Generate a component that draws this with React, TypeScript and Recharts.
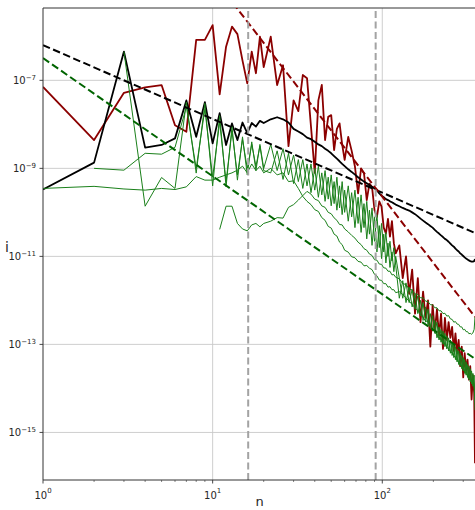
import { CartesianGrid, Line, LineChart, ReferenceLine, XAxis, YAxis } from 'recharts';

// sample positions shared by every measured series
const ns = [
  1, 2, 3, 4, 5, 6, 7, 8, 9, 10, 11, 12, 13, 14, 15, 16, 17, 18, 19, 20,
  22, 24, 26, 28, 30, 32, 34, 36, 38, 40, 42, 44, 46, 48, 50, 52, 54, 56, 58, 60,
  63, 66, 69, 72, 75, 78, 81, 84, 87, 90, 93, 96, 99, 102, 105, 108, 111, 114, 117, 120,
  126, 132, 138, 144, 150, 156, 162, 168, 174, 180, 186, 192, 198, 204, 210, 216, 222, 228, 234, 240,
  246, 252, 258, 264, 270, 276, 282, 288, 294, 300, 306, 312, 318, 324, 330, 336, 342, 348, 352,
];

const red = [
  7.1e-8, 4.4e-9, 5.2e-8, 6.9e-8, 7.8e-8, 9.5e-9, 6.8e-9, 8.3e-7, 8.3e-7, 1.8e-6, 4.8e-8, 5.8e-7, 1.66e-6, 1.12e-6, 2.8e-7, 8.5e-8, 4.5e-7, 1.45e-7, 9.8e-7, 2.0e-7,
  9.8e-7, 7.8e-8, 2.2e-7, 3.2e-9, 3.5e-8, 2.0e-8, 1.32e-7, 1.12e-7, 8.9e-9, 7.9e-10, 3.5e-8, 7.9e-8, 4.4e-9, 1.48e-8, 1.62e-8, 2.6e-9, 7.9e-9, 1.05e-8, 3.5e-9, 1.55e-9,
  5.2e-9, 2.5e-9, 1.1e-9, 2.7e-10, 1.0e-9, 7.8e-10, 1.9e-10, 4.5e-10, 3.8e-10, 1.12e-10, 7.9e-11, 1.78e-10, 1.35e-10, 4.5e-11, 3.3e-11, 7.1e-11, 2.8e-11, 6.3e-11, 2.0e-11, 1.17e-11,
  1.78e-11, 3.2e-12, 1.0e-11, 1.41e-12, 5.0e-12, 5.0e-13, 3.2e-12, 3.2e-13, 1.58e-12, 4.0e-13, 1.0e-12, 8.9e-14, 7.9e-13, 2.0e-13, 6.3e-13, 1.58e-13, 5.0e-13, 7.9e-14, 4.0e-13, 1.26e-13,
  3.2e-13, 1.41e-13, 2.5e-13, 7.1e-14, 1.78e-13, 6.3e-14, 1.26e-13, 3.2e-14, 8.9e-14, 1.78e-14, 6.3e-14, 2.5e-14, 4.5e-14, 1.58e-14, 3.2e-14, 5.6e-15, 2.0e-14, 7.9e-15, 2.0e-16,
];

const black = [
  3.3e-10, 1.35e-9, 4.5e-7, 2.95e-9, 3.4e-9, 4.8e-9, 3.5e-8, 5.2e-9, 3.2e-8, 3.7e-9, 1.8e-8, 3.4e-9, 1.05e-8, 4.4e-9, 1.1e-8, 6.3e-9, 1.07e-8, 8.9e-9, 1.2e-8, 1.07e-8,
  1.3e-8, 1.45e-8, 1.3e-8, 1.1e-8, 7.9e-9, 6.9e-9, 6.0e-9, 5.0e-9, 4.6e-9, 4.0e-9, 3.5e-9, 3.2e-9, 2.8e-9, 2.5e-9, 2.2e-9, 1.9e-9, 1.66e-9, 1.45e-9, 1.26e-9, 1.12e-9,
  9.5e-10, 8.3e-10, 7.2e-10, 6.3e-10, 5.6e-10, 5.0e-10, 4.6e-10, 4.2e-10, 3.8e-10, 3.5e-10, 3.2e-10, 2.7e-10, 2.4e-10, 2.2e-10, 2.0e-10, 1.9e-10, 1.78e-10, 1.7e-10, 1.6e-10, 1.5e-10,
  1.38e-10, 1.26e-10, 1.17e-10, 1.1e-10, 1.0e-10, 9.1e-11, 8.1e-11, 7.2e-11, 6.5e-11, 5.9e-11, 5.4e-11, 4.9e-11, 4.5e-11, 4.0e-11, 3.6e-11, 3.3e-11, 3.0e-11, 2.75e-11, 2.5e-11, 2.35e-11,
  2.15e-11, 1.95e-11, 1.78e-11, 1.66e-11, 1.5e-11, 1.38e-11, 1.29e-11, 1.17e-11, 1.1e-11, 1.02e-11, 9.5e-12, 8.9e-12, 8.5e-12, 8.1e-12, 7.8e-12, 7.6e-12, 7.6e-12, 7.8e-12, 8.7e-12,
];

const greenA = [
  3.5e-10, 3.9e-10, 3.4e-10, 3.2e-10, 3.5e-10, 3.3e-10, 3.8e-10, 6.5e-10, 5.4e-10, 5.4e-10, 6.3e-10, 7.1e-10, 7.9e-10, 9.1e-10, 1.12e-9, 7.9e-10, 1.26e-9, 8.9e-10, 1.12e-9, 7.9e-10,
  1.0e-9, 7.1e-10, 7.9e-10, 5.0e-10, 5.2e-10, 3.5e-10, 2.3e-10, 1.78e-10, 1.5e-10, 1.15e-10, 1.05e-10, 7.6e-11, 6.6e-11, 4.8e-11, 4.4e-11, 3.2e-11, 2.9e-11, 2.1e-11, 1.85e-11, 1.38e-11,
  1.25e-11, 9.8e-12, 9.3e-12, 7.7e-12, 7.4e-12, 6.1e-12, 6.2e-12, 5.4e-12, 5.0e-12, 3.9e-12, 3.6e-12, 2.9e-12, 2.85e-12, 2.4e-12, 2.4e-12, 2.0e-12, 2.05e-12, 1.75e-12, 1.75e-12, 1.5e-12,
  1.58e-12, 1.35e-12, 1.15e-12, 9.5e-13, 8.1e-13, 6.8e-13, 5.8e-13, 4.8e-13, 4.1e-13, 3.4e-13, 3.3e-13, 2.4e-13, 2.3e-13, 1.9e-13, 1.62e-13, 1.36e-13, 1.3e-13, 1.08e-13, 1.03e-13, 8.6e-14,
  8.1e-14, 6.8e-14, 6.5e-14, 5.4e-14, 5.2e-14, 4.3e-14, 4.1e-14, 3.4e-14, 3.3e-14, 2.7e-14, 2.6e-14, 2.1e-14, 2.05e-14, 1.7e-14, 1.62e-14, 1.36e-14, 1.3e-14, 1.08e-14, 3.2e-15,
];

const greenB = [
  null, 1.0e-9, 9.1e-10, 2.2e-9, 2.1e-9, 3.0e-9, 2.5e-8, 1.0e-9, 2.2e-8, 6.3e-10, 1.12e-8, 5.0e-10, 7.1e-9, 7.1e-10, 4.5e-9, 1.0e-9, 3.5e-9, 1.12e-9, 3.2e-9, 8.9e-10,
  7.9e-10, 2.5e-9, 5.6e-10, 2.2e-9, 4.5e-10, 1.58e-9, 3.5e-10, 1.26e-9, 2.8e-10, 1.0e-9, 2.2e-10, 7.9e-10, 1.78e-10, 6.3e-10, 1.41e-10, 5.0e-10, 1.12e-10, 4.0e-10, 8.9e-11, 3.2e-10,
  6.3e-11, 2.8e-10, 4.5e-11, 2.2e-10, 3.5e-11, 1.58e-10, 2.5e-11, 1.12e-10, 1.78e-11, 7.9e-11, 1.26e-11, 5.0e-11, 8.9e-12, 3.2e-11, 7.1e-12, 2.0e-11, 5.6e-12, 1.26e-11, 4.5e-12, 1.0e-11,
  3.2e-12, 1.12e-12, 2.5e-12, 8.9e-13, 1.78e-12, 6.3e-13, 1.26e-12, 4.5e-13, 8.9e-13, 3.2e-13, 6.3e-13, 2.5e-13, 4.5e-13, 1.78e-13, 3.2e-13, 1.26e-13, 2.2e-13, 1.0e-13, 1.78e-13, 7.9e-14,
  1.41e-13, 6.3e-14, 1.12e-13, 5.0e-14, 8.9e-14, 4.0e-14, 7.1e-14, 3.2e-14, 5.6e-14, 2.5e-14, 4.5e-14, 2.0e-14, 3.5e-14, 1.58e-14, 2.8e-14, 1.26e-14, 2.2e-14, 1.0e-14, 7.9e-15,
];

const greenC = [
  null, null, 4.5e-7, 1.38e-10, 6.2e-10, 3.5e-10, 3.2e-8, 7.8e-10, 3.0e-8, 4.0e-10, 1.58e-8, 3.8e-10, 8.9e-9, 5.4e-10, 5.2e-9, 7.1e-10, 4.0e-9, 8.9e-10, 3.5e-9, 1.0e-9,
  3.5e-9, 8.9e-10, 2.8e-9, 7.1e-10, 2.0e-9, 5.0e-10, 1.58e-9, 4.0e-10, 1.26e-9, 3.2e-10, 1.12e-9, 2.5e-10, 8.9e-10, 2.0e-10, 7.1e-10, 1.58e-10, 6.3e-10, 1.26e-10, 5.0e-10, 1.0e-10,
  4.0e-10, 7.9e-11, 3.2e-10, 5.6e-11, 2.5e-10, 4.5e-11, 1.78e-10, 3.2e-11, 1.26e-10, 2.2e-11, 8.9e-11, 1.58e-11, 5.6e-11, 1.26e-11, 3.5e-11, 1.0e-11, 2.2e-11, 7.9e-12, 1.58e-11, 6.3e-12,
  1.12e-12, 2.8e-12, 8.9e-13, 2.0e-12, 7.1e-13, 1.41e-12, 5.0e-13, 1.0e-12, 3.5e-13, 7.1e-13, 2.8e-13, 5.0e-13, 2.0e-13, 3.5e-13, 1.41e-13, 2.5e-13, 1.12e-13, 2.0e-13, 8.9e-14, 1.58e-13,
  7.1e-14, 1.26e-13, 5.6e-14, 1.0e-13, 4.5e-14, 7.9e-14, 3.5e-14, 6.3e-14, 2.8e-14, 5.0e-14, 2.2e-14, 4.0e-14, 1.78e-14, 3.2e-14, 1.41e-14, 2.5e-14, 1.12e-14, 2.0e-14, 5.0e-15,
];

const greenD = [
  null, null, null, null, null, null, null, null, null, null, 4.1e-11, 1.38e-10, 1.38e-10, 5.6e-11, 4.2e-11, 3.8e-11, 5.2e-11, 5.6e-11, 4.7e-11, 5.6e-11,
  6.3e-11, 7.6e-11, 7.4e-11, 1.3e-10, 1.5e-10, 1.9e-10, 2.4e-10, 3.0e-10, 2.6e-10, 2.0e-10, 1.85e-10, 1.4e-10, 1.3e-10, 1.0e-10, 9.3e-11, 7.5e-11, 6.6e-11, 5.3e-11, 5.2e-11, 4.2e-11,
  3.6e-11, 3.0e-11, 2.6e-11, 2.1e-11, 1.85e-11, 1.5e-11, 1.38e-11, 1.13e-11, 1.05e-11, 8.4e-12, 8.2e-12, 6.7e-12, 6.6e-12, 5.5e-12, 5.4e-12, 4.6e-12, 4.6e-12, 3.8e-12, 3.85e-12, 3.35e-12,
  3.1e-12, 2.4e-12, 2.3e-12, 1.8e-12, 1.72e-12, 1.4e-12, 1.37e-12, 1.15e-12, 1.14e-12, 9.6e-13, 9.4e-13, 8.0e-13, 7.9e-13, 6.8e-13, 6.8e-13, 5.8e-13, 5.8e-13, 5.0e-13, 5.1e-13, 4.4e-13,
  4.5e-13, 3.8e-13, 3.7e-13, 3.2e-13, 3.3e-13, 2.9e-13, 2.85e-13, 2.5e-13, 2.5e-13, 2.15e-13, 2.2e-13, 1.95e-13, 1.95e-13, 1.75e-13, 1.78e-13, 1.7e-13, 1.82e-13, 2.2e-13, 4.3e-13,
];

// power-law fits, endpoints only
const blackFitN = [1, 352];
const blackFit = [6.3e-7, 3.4e-11];
const greenFitN = [1, 352];
const greenFit = [3.2e-7, 4.7e-14];
const redFitN = [12, 352];
const redFit = [9.1e-6, 4.2e-13];

const cutoffs = [16.2, 91.4];

const xTicks = [1, 2, 3, 4, 5, 6, 7, 8, 9, 10, 20, 30, 40, 50, 60, 70, 80, 90, 100, 200, 300];
const xMajor = [1, 10, 100];
const yTicks = [1e-15, 1e-13, 1e-11, 1e-9, 1e-7];

const X_DOMAIN = [1, 352];
const Y_DOMAIN = [8.3e-17, 4.4e-6];

const rows = ns.map((n, i) => ({
  n,
  red: red[i],
  black: black[i],
  ga: greenA[i],
  gb: greenB[i],
  gc: greenC[i],
  gd: greenD[i],
}));

const fitRows = (xs: number[], vs: number[]) => xs.map((n, i) => ({ n, v: vs[i] }));

const FONT = '"DejaVu Sans", sans-serif';
const INK = '#262626';

function XTick(props: any) {
  const { x, y, payload } = props;
  const v = payload.value;
  const major = xMajor.includes(v);
  return (
    <g>
      <line x1={x} x2={x} y1={y} y2={y + (major ? 3.5 : 2)} stroke="#333" strokeWidth={major ? 0.9 : 0.6} />
      {major && (
        <text x={x} y={y + 18.5} textAnchor="middle" fontFamily={FONT} fontSize={10} fill={INK}>
          10<tspan dy={-5.5} fontSize={7}>{Math.round(Math.log10(v))}</tspan>
        </text>
      )}
    </g>
  );
}

function YTick(props: any) {
  const { x, y, payload } = props;
  const exp = Math.round(Math.log10(payload.value));
  return (
    <g>
      <line x1={x} x2={x - 3.5} y1={y} y2={y} stroke="#333" strokeWidth={0.9} />
      <text x={x - 7} y={y + 3.8} textAnchor="end" fontFamily={FONT} fontSize={10} fill={INK}>
        10<tspan dy={-4.5} fontSize={7}>{'\u2212' + Math.abs(exp)}</tspan>
      </text>
    </g>
  );
}

const lineProps = {
  type: 'linear' as const,
  dot: false,
  activeDot: false,
  isAnimationActive: false,
  strokeLinejoin: 'round' as const,
};

export default function App() {
  return (
    <div style={{ position: 'absolute', left: 0, top: 0, width: 475, height: 510, overflow: 'hidden', background: '#fff' }}>
      <LineChart width={475} height={510} data={rows} margin={{ top: 8, right: 0, bottom: 0, left: 0 }}>
        <CartesianGrid stroke="#c8c8c8" strokeWidth={0.9} horizontalValues={yTicks} verticalValues={[10, 100]} />
        <XAxis
          dataKey="n"
          type="number"
          scale="log"
          domain={X_DOMAIN}
          allowDataOverflow
          ticks={xTicks}
          interval={0}
          height={30}
          tickSize={0}
          tickMargin={0}
          tickLine={false}
          tick={(p: any) => <XTick {...p} />}
          axisLine={{ stroke: '#333', strokeWidth: 1 }}
        />
        <YAxis
          type="number"
          scale="log"
          domain={Y_DOMAIN}
          allowDataOverflow
          ticks={yTicks}
          interval={0}
          width={43}
          tickSize={0}
          tickMargin={0}
          tickLine={false}
          tick={(p: any) => <YTick {...p} />}
          axisLine={{ stroke: '#333', strokeWidth: 1 }}
        />
        <ReferenceLine y={Y_DOMAIN[1]} stroke="#333" strokeWidth={1} />

        <Line {...lineProps} dataKey="red" stroke="#8b0000" strokeWidth={1.8} />
        <Line {...lineProps} dataKey="black" stroke="#000" strokeWidth={1.8} />
        <Line {...lineProps} dataKey="ga" stroke="#1a801a" strokeWidth={1} />
        <Line {...lineProps} dataKey="gb" stroke="#1a801a" strokeWidth={1} />
        <Line {...lineProps} dataKey="gc" stroke="#1a801a" strokeWidth={1} />
        <Line {...lineProps} dataKey="gd" stroke="#1a801a" strokeWidth={1} />

        <Line {...lineProps} data={fitRows(blackFitN, blackFit)} dataKey="v" stroke="#000" strokeWidth={2} strokeDasharray="7.5 3.5" />
        <Line {...lineProps} data={fitRows(greenFitN, greenFit)} dataKey="v" stroke="#006400" strokeWidth={2} strokeDasharray="7.5 3.5" />
        <Line {...lineProps} data={fitRows(redFitN, redFit)} dataKey="v" stroke="#8b0000" strokeWidth={2} strokeDasharray="7.5 3.5" />

        {cutoffs.map((c) => (
          <ReferenceLine key={c} x={c} stroke="#a3a3a3" strokeWidth={2} strokeDasharray="7 3.5" />
        ))}
      </LineChart>
      <svg width={475} height={510} style={{ position: 'absolute', left: 0, top: 0, pointerEvents: 'none' }}>
        <text x={259.5} y={506} textAnchor="middle" fontFamily={FONT} fontSize={13} fill={INK}>n</text>
        <text x={7} y={252} textAnchor="middle" fontFamily={FONT} fontSize={14} fill={INK}>i</text>
      </svg>
    </div>
  );
}
